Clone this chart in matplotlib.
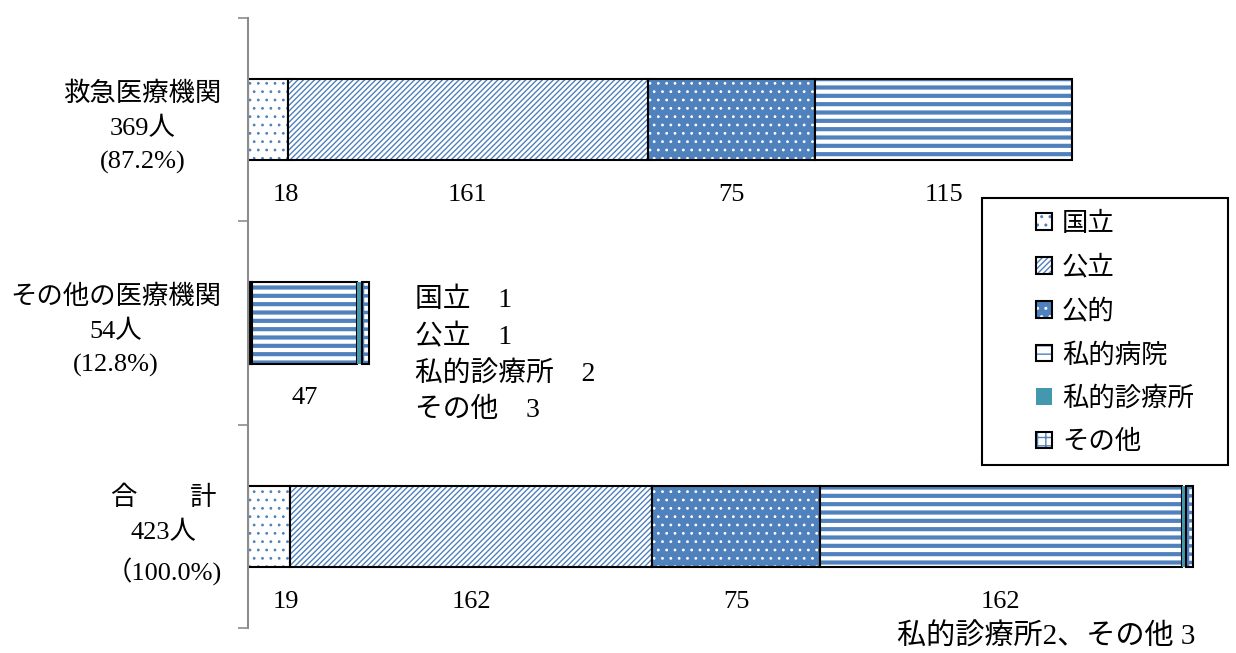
import numpy as np
import matplotlib.pyplot as plt
from matplotlib.patches import Rectangle
from matplotlib.legend_handler import HandlerTuple

plt.rcParams['font.family'] = ['Liberation Serif', 'Noto Sans CJK JP']

# categories (top to bottom)
categories = ['救急医療機関\n369人\n(87.2%)',
              'その他の医療機関\n54人\n(12.8%)',
              '合　　計\n423人\n（100.0%)']
series = ['国立', '公立', '公的', '私的病院', '私的診療所', 'その他']

kokuritsu = [18, 1, 19]
kouritsu = [161, 1, 162]
kouteki = [75, 0, 75]
shiteki_byouin = [115, 47, 162]
shiteki_shinryou = [0, 2, 2]
sonota = [0, 3, 3]
values = [kokuritsu, kouritsu, kouteki, shiteki_byouin, shiteki_shinryou, sonota]

note_text = '国立　1\n公立　1\n私的診療所　2\nその他　3'
bottom_note = '私的診療所2、その他 3'

blue = '#4F81BD'
teal = '#4398AE'
# face, hatch, hatch colour, hatch linewidth, black outline
styles = [
    ('white', '..', blue, 0.8, True),
    ('white', '//////', blue, 1.0, True),
    (blue, '..', 'white', 0.8, True),
    ('white', '--', blue, 3.0, True),
    (teal, None, teal, 0.0, False),
    ('white', '++', blue, 2.5, True),
]

fig = plt.figure(figsize=(12.36, 6.53), dpi=100)
ax = fig.add_axes([248 / 1236, 25 / 653, 988 / 1236, 610 / 653])

y = np.arange(len(categories))
left = np.zeros(len(categories))
handles = []
for vals, (face, hatch, hc, hlw, outline) in zip(values, styles):
    vals = np.array(vals, dtype=float)
    idx = vals > 0
    with plt.rc_context({'hatch.linewidth': hlw}):
        p = ax.barh(y[idx], vals[idx], left=left[idx], height=0.4, color=face,
                    hatch=hatch, edgecolor=hc, linewidth=0)
    if outline:
        o = ax.barh(y[idx], vals[idx], left=left[idx], height=0.4, fill=False,
                    edgecolor='black', linewidth=1.5)
        handles.append((p[0], o[0]))
    else:
        handles.append(p[0])
    # value labels under the bars
    for yi, v, l in zip(y, vals, left):
        if v >= 10:
            ax.text(max(l + v / 2, 17), yi + 0.37, f'{int(v)}', ha='center',
                    va='center', fontsize=19)
    left += vals

ax.set_xlim(0, 442.4)
ax.set_ylim(2.5, -0.5)

ax.set_yticks(y)
ax.set_yticklabels(categories, fontsize=19, linespacing=1.6, ma='center')
ax.set_yticks([-0.5, 0.5, 1.5, 2.5], minor=True)
ax.tick_params(axis='y', which='major', length=0, pad=19)
ax.tick_params(axis='y', which='minor', length=7, width=1.2, color='#8c8c8c')
ax.set_xticks([])
for s in ['top', 'right', 'bottom']:
    ax.spines[s].set_visible(False)
ax.spines['left'].set_color('#8c8c8c')
ax.spines['left'].set_linewidth(1.5)

ax.text(75, 1.16, note_text, ha='left', va='center', fontsize=20, linespacing=1.55)
fig.text(1195 / 1236, 16 / 653, bottom_note, ha='right', va='center', fontsize=21)

# legend with its own box
fig.patches.append(Rectangle((982 / 1236, 188 / 653), 246 / 1236, 267 / 653,
                             transform=fig.transFigure, fill=False,
                             edgecolor='black', linewidth=1.5))
fig.legend(handles, series, loc='center left',
           bbox_to_anchor=(1012 / 1236, 1 - 333 / 653), frameon=False,
           fontsize=19, handlelength=0.6, handleheight=0.6,
           handletextpad=0.4, labelspacing=0.72,
           handler_map={tuple: HandlerTuple(ndivide=1, pad=0)})

fig.savefig('out.png', dpi=100)
